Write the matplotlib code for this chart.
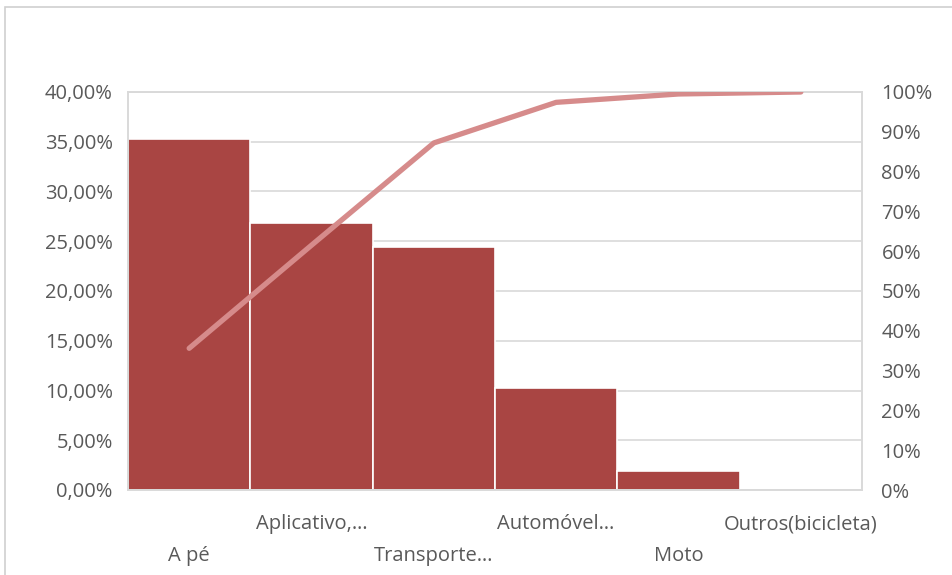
import matplotlib.pyplot as plt
from matplotlib.patches import Rectangle
from matplotlib.ticker import FuncFormatter, MultipleLocator

plt.rcParams['font.family'] = ['Open Sans', 'DejaVu Sans']

# dados
categorias = ['A pé', 'Aplicativo,…', 'Transporte…', 'Automóvel…', 'Moto', 'Outros(bicicleta)']
percentual = [35.3, 26.8, 24.4, 10.3, 1.9, 0.0]
acumulado = [35.6, 61.5, 87.2, 97.4, 99.5, 100.0]

cor_barra = '#A94543'
cor_linha = '#D68B8B'
cinza = '#595959'
grade = '#D9D9D9'

fig = plt.figure(figsize=(9.52, 5.75), dpi=100)
ax = fig.add_axes([128 / 952, 1 - 490 / 575, (862 - 128) / 952, (490 - 92) / 575])

x = range(len(categorias))
ax.bar(x, percentual, width=1.0, color=cor_barra, edgecolor='white', linewidth=1.2, zorder=2)
ax.set_xlim(-0.5, len(categorias) - 0.5)
ax.set_ylim(0, 40)
ax.yaxis.set_major_locator(MultipleLocator(5))
ax.yaxis.set_major_formatter(FuncFormatter(lambda v, p: ('%.2f%%' % v).replace('.', ',')))
ax.grid(axis='y', color=grade, linewidth=1.2, zorder=0)
ax.set_axisbelow(True)

# rótulos do eixo x em duas linhas alternadas
rotulos = [c if i % 2 else '\n' + c for i, c in enumerate(categorias)]
ax.set_xticks(list(x))
ax.set_xticklabels(rotulos)
for t in ax.get_xticklabels():
    t.set_linespacing(1.75)

ax.tick_params(axis='x', length=0, pad=17.5, labelsize=14.5, labelcolor=cinza)
ax.tick_params(axis='y', length=0, pad=11, labelsize=14.5, labelcolor=cinza)
for s in ax.spines.values():
    s.set_color(grade)
    s.set_linewidth(1.2)

ax2 = ax.twinx()
ax2.plot(x, acumulado, color=cor_linha, linewidth=3.8, solid_capstyle='round', zorder=3)
ax2.set_ylim(0, 100)
ax2.yaxis.set_major_locator(MultipleLocator(10))
ax2.yaxis.set_major_formatter(FuncFormatter(lambda v, p: '%d%%' % v))
ax2.tick_params(axis='y', length=0, pad=14, labelsize=14.5, labelcolor=cinza)
for s in ax2.spines.values():
    s.set_color(grade)
    s.set_linewidth(1.2)

# moldura do gráfico
fig.patches.append(Rectangle((5 / 952, -0.1), 1.1, 1 - 7 / 575 + 0.1, transform=fig.transFigure,
                             fill=False, edgecolor='#D0D0D0', linewidth=1.2))

fig.savefig('out.png', dpi=100)
